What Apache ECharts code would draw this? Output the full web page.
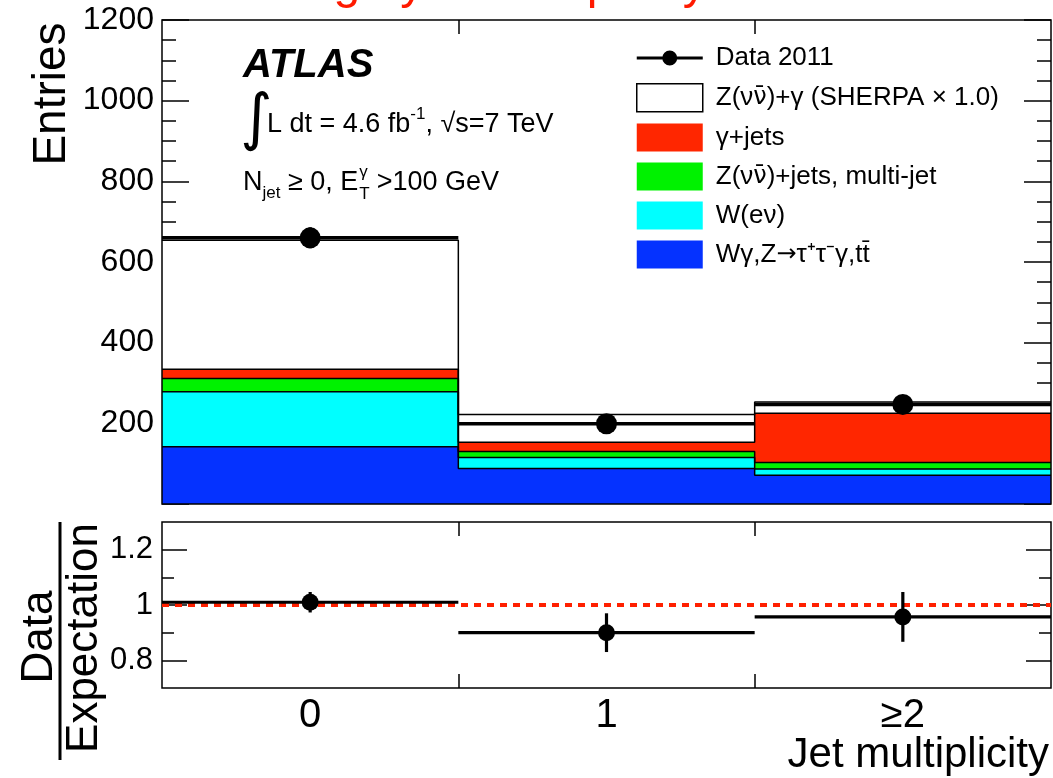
<!DOCTYPE html>
<html>
<head>
<meta charset="utf-8">
<script src="https://cdn.jsdelivr.net/npm/echarts@6/dist/echarts.min.js"></script>
<style>
  html, body { margin: 0; padding: 0; background: #fff; }
  #chart { width: 1053px; height: 778px; }
</style>
</head>
<body>
<div id="chart"></div>
<script>
// Jet multiplicity bins and their edges
const jetBins = ['0', '1', '≥2'];
const binEdges = [-0.5, 0.5, 1.5, 2.5];
const binBoundaries = [0.5, 1.5];

// Observed events with uncertainties
const dataCounts = [660, 199, 247];
const dataErrors = [26, 14, 16];

// Expected contributions per bin, listed from the bottom of the stack up
const wgZttTt = [142, 88, 71];
const wEnu = [136, 27, 16];
const zJetsMultijet = [33, 15, 16];
const gammaJets = [23, 23, 122];
const zgSherpa = [320, 69, 28];

// Data / expectation
const ratioValues = [1.01, 0.90, 0.957];
const ratioErrors = [0.037, 0.07, 0.09];
const ratioReference = 1;

// Ratio axis ticks
const ratioMajorTicks = [0.8, 1, 1.2];
const ratioMinorTicks = [0.9, 1.1];

const FONT = '"Liberation Sans", Arial, Helvetica, sans-serif';
const SYMBOL_FONT = '"DejaVu Sans", sans-serif';
const names = {
  data: 'Data 2011',
  zg: 'Z(νν̄)+γ (SHERPA × 1.0)',
  gj: 'γ+jets',
  zj: 'Z(νν̄)+jets, multi-jet',
  we: 'W(eν)',
  wg: 'Wγ,Z→τ⁺τ⁻γ,tt̄'
};
const colors = {
  zg: '#ffffff', gj: '#ff2600', zj: '#00f200', we: '#00ffff', wg: '#0532ff'
};

// Running totals of the stack, bottom to top
const stackOrder = [
  ['wg', wgZttTt], ['we', wEnu], ['zj', zJetsMultijet], ['gj', gammaJets], ['zg', zgSherpa]
];
const stackTops = {};
{
  let running = jetBins.map(() => 0);
  stackOrder.forEach(([key, vals]) => {
    running = running.map((r, i) => r + vals[i]);
    stackTops[key] = running.slice();
  });
}

// Histogram outline as a stepped area filled down to zero; the series is
// drawn from the top of the stack downward so each lower layer covers the
// fill of the layers above it.
function stepSeries(key) {
  const tops = stackTops[key];
  return {
    name: names[key], type: 'line', xAxisIndex: 0, yAxisIndex: 0,
    step: 'end', symbol: 'none', showSymbol: false,
    data: binEdges.map((e, i) => [e, tops[Math.min(i, tops.length - 1)]]),
    lineStyle: { color: '#000', width: 1.5 },
    areaStyle: { color: colors[key], opacity: 1, origin: 'start' },
    itemStyle: { color: colors[key] },
    emphasis: { disabled: true },
    z: 2
  };
}

// Data point: full-bin horizontal bar, vertical error bar and a filled dot
function pointRenderer(radius, width) {
  return function (params, api) {
    const x = api.value(0), y = api.value(1), e = api.value(2);
    const l = api.coord([x - 0.5, y]);
    const r = api.coord([x + 0.5, y]);
    const c = api.coord([x, y]);
    const t = api.coord([x, y + e]);
    const b = api.coord([x, y - e]);
    const st = { stroke: '#000', lineWidth: width };
    return {
      type: 'group',
      children: [
        { type: 'line', shape: { x1: l[0], y1: l[1], x2: r[0], y2: r[1] }, style: st },
        { type: 'line', shape: { x1: c[0], y1: t[1], x2: c[0], y2: b[1] }, style: st },
        { type: 'circle', shape: { cx: c[0], cy: c[1], r: radius }, style: { fill: '#000' } }
      ]
    };
  };
}

function measure(text, size) {
  const ctx = document.createElement('canvas').getContext('2d');
  ctx.font = size + 'px ' + FONT;
  return ctx.measureText(text).width;
}

const tickStyle = { color: '#000', width: 1.5 };
const plotLeft = 162, plotRight = 2;
const hiddenLine = { show: false, onZero: false };

function edgeXAxis(gridIndex, position, labels) {
  return {
    type: 'value', gridIndex, position, min: binEdges[0], max: binEdges[binEdges.length - 1],
    axisLine: hiddenLine, splitLine: { show: false },
    axisTick: { show: true, inside: true, length: 14, lineStyle: tickStyle, customValues: binBoundaries },
    axisLabel: labels ? {
      show: true, customValues: [0, 1, 2], formatter: v => jetBins[Math.round(v)],
      fontSize: 40, color: '#000', margin: 8, fontFamily: FONT
    } : { show: false }
  };
}

function valueYAxis(gridIndex, position, min, max, extra) {
  return Object.assign({
    type: 'value', gridIndex, position, min, max,
    axisLine: hiddenLine, splitLine: { show: false }, axisLabel: { show: false }
  }, extra);
}

const chart = echarts.init(document.getElementById('chart'), null, { renderer: 'canvas' });

// Annotation line "N_jet >= 0, E_T^gamma > 100 GeV"
const annSize = 27, annSub = 17;
const nx0 = 243, ny = 183;
const part1W = measure('N', annSize) + measure('jet', annSub) + measure(' ≥ 0, E', annSize);
const scriptW = Math.max(measure('γ', annSub), measure('T', annSub));
const richBase = {
  n: { fontSize: annSize, fontFamily: FONT, color: '#000', lineHeight: 38, verticalAlign: 'middle' },
  sup: { fontSize: annSub, fontFamily: FONT, color: '#000', lineHeight: 17, verticalAlign: 'top' },
  sub: { fontSize: annSub, fontFamily: FONT, color: '#000', lineHeight: 17, verticalAlign: 'bottom' }
};

// Legend labels: Greek bars and arrows set in a font with good combining marks
function legendLabel(name) {
  return name
    .replace(/ν̄/g, '{s|ν̄}')
    .replace(/→/g, '{s|→}');
}

const option = {
  backgroundColor: '#fff',
  animation: false,
  textStyle: { fontFamily: FONT },
  grid: [
    { left: plotLeft, right: plotRight, top: 20, height: 484, show: true, borderColor: '#000', borderWidth: 1.5, backgroundColor: 'transparent', z: 10 },
    { left: plotLeft, right: plotRight, top: 522, height: 166, show: true, borderColor: '#000', borderWidth: 1.5, backgroundColor: 'transparent' },
    { left: plotLeft, right: plotRight, top: 522, height: 166, show: false }
  ],
  xAxis: [
    edgeXAxis(0, 'bottom', false),
    edgeXAxis(0, 'top', false),
    edgeXAxis(1, 'bottom', true),
    edgeXAxis(1, 'top', false),
    {
      type: 'value', gridIndex: 2, min: binEdges[0], max: binEdges[binEdges.length - 1],
      axisLine: hiddenLine, axisTick: { show: false }, axisLabel: { show: false }, splitLine: { show: false }
    }
  ],
  yAxis: [
    valueYAxis(0, 'left', 0, 1200, {
      interval: 200,
      axisTick: { inside: true, length: 27, lineStyle: tickStyle },
      minorTick: { show: true, splitNumber: 4, length: 14, lineStyle: tickStyle },
      axisLabel: { fontSize: 32, color: '#000', margin: 8, formatter: v => (v === 0 ? '' : String(v)) }
    }),
    valueYAxis(0, 'right', 0, 1200, {
      interval: 200,
      axisTick: { inside: true, length: 27, lineStyle: tickStyle },
      minorTick: { show: true, splitNumber: 4, length: 14, lineStyle: tickStyle }
    }),
    valueYAxis(1, 'left', 0.7, 1.3, {
      axisTick: { inside: true, length: 25, lineStyle: tickStyle, customValues: ratioMajorTicks },
      axisLabel: { fontSize: 31, color: '#000', margin: 9, customValues: ratioMajorTicks, formatter: v => String(v) }
    }),
    valueYAxis(1, 'right', 0.7, 1.3, {
      axisTick: { inside: true, length: 25, lineStyle: tickStyle, customValues: ratioMajorTicks }
    }),
    valueYAxis(2, 'left', 0.7, 1.3, {
      axisTick: { show: true, inside: true, length: 12, lineStyle: tickStyle, customValues: ratioMinorTicks }
    }),
    valueYAxis(2, 'right', 0.7, 1.3, {
      axisTick: { show: true, inside: true, length: 12, lineStyle: tickStyle, customValues: ratioMinorTicks }
    })
  ],
  legend: {
    orient: 'vertical', left: 636, top: 44, padding: 0,
    itemWidth: 66, itemHeight: 28, itemGap: 11,
    selectedMode: false,
    formatter: legendLabel,
    textStyle: {
      fontSize: 26, color: '#000', fontFamily: FONT, padding: [0, 0, 0, 8],
      rich: { s: { fontSize: 24, fontFamily: SYMBOL_FONT, color: '#000' } }
    },
    data: [
      {
        name: names.data,
        icon: 'path://M0,0L0.01,0L0,0.01Z M66,28L65.99,28L66,27.99Z M0,12.5L66,12.5L66,15.5L0,15.5Z M25.5,14A7.5,7.5 0 1,1 40.5,14A7.5,7.5 0 1,1 25.5,14Z',
        itemStyle: { color: '#000', borderWidth: 0 }
      },
      { name: names.zg, icon: 'rect', itemStyle: { color: colors.zg, borderColor: '#000', borderWidth: 1.5 } },
      { name: names.gj, icon: 'rect', itemStyle: { color: colors.gj, borderWidth: 0 } },
      { name: names.zj, icon: 'rect', itemStyle: { color: colors.zj, borderWidth: 0 } },
      { name: names.we, icon: 'rect', itemStyle: { color: colors.we, borderWidth: 0 } },
      { name: names.wg, icon: 'rect', itemStyle: { color: colors.wg, borderWidth: 0 } }
    ]
  },
  series: [
    stepSeries('zg'),
    stepSeries('gj'),
    stepSeries('zj'),
    stepSeries('we'),
    stepSeries('wg'),
    {
      name: names.data, type: 'custom', xAxisIndex: 0, yAxisIndex: 0,
      data: dataCounts.map((v, i) => [i, v, dataErrors[i]]),
      encode: { x: 0, y: 1 }, renderItem: pointRenderer(10.5, 3.5),
      itemStyle: { color: '#000' }, z: 5
    },
    {
      name: 'ratio reference', type: 'line', xAxisIndex: 4, yAxisIndex: 4,
      data: [[binEdges[0], ratioReference], [binEdges[binEdges.length - 1], ratioReference]],
      symbol: 'none', lineStyle: { color: '#ff2000', width: 4, type: [7, 6] }, z: 3
    },
    {
      name: 'ratio', type: 'custom', xAxisIndex: 2, yAxisIndex: 2,
      data: ratioValues.map((v, i) => [i, v, ratioErrors[i]]),
      encode: { x: 0, y: 1 }, renderItem: pointRenderer(8.5, 3.2),
      itemStyle: { color: '#000' }, z: 5
    }
  ],
  graphic: [
    {
      type: 'text', x: 200, y: -15.5,
      style: { text: 'Binning by N multiplicity', fill: '#ff1a00', font: '48px ' + FONT, verticalAlign: 'middle' }
    },
    {
      type: 'text', x: 243, y: 66,
      style: { text: 'ATLAS', fill: '#000', font: 'italic bold 40px ' + FONT, verticalAlign: 'middle' }
    },
    {
      type: 'text', x: 240, y: 122,
      style: { text: '∫', fill: '#000', font: '62px ' + SYMBOL_FONT, verticalAlign: 'middle' }
    },
    {
      type: 'text', x: 267, y: 125,
      style: {
        text: '{n|L dt = 4.6 fb}{sup|-1}{n|, √s=7 TeV}',
        verticalAlign: 'middle', rich: richBase
      }
    },
    {
      type: 'text', x: nx0, y: ny,
      style: { text: '{n|N}{sub|jet}{n| ≥ 0, E}', verticalAlign: 'middle', rich: richBase }
    },
    {
      type: 'text', x: nx0 + part1W + 1, y: ny - 11,
      style: { text: 'γ', fill: '#000', font: annSub + 'px ' + FONT, verticalAlign: 'middle' }
    },
    {
      type: 'text', x: nx0 + part1W + 1, y: ny + 11,
      style: { text: 'T', fill: '#000', font: annSub + 'px ' + FONT, verticalAlign: 'middle' }
    },
    {
      type: 'text', x: nx0 + part1W + scriptW + 8, y: ny,
      style: { text: '>100 GeV', fill: '#000', font: annSize + 'px ' + FONT, verticalAlign: 'middle' }
    },
    {
      type: 'text', x: 52.7, y: 94, rotation: Math.PI / 2,
      style: { text: 'Entries', fill: '#000', font: '46px ' + FONT, align: 'center', verticalAlign: 'middle' }
    },
    {
      type: 'text', x: 39.4, y: 637, rotation: Math.PI / 2,
      style: { text: 'Data', fill: '#000', font: '44px ' + FONT, align: 'center', verticalAlign: 'middle' }
    },
    {
      type: 'line', shape: { x1: 60, y1: 522, x2: 60, y2: 760 },
      style: { stroke: '#000', lineWidth: 3 }
    },
    {
      type: 'text', x: 84.4, y: 638, rotation: Math.PI / 2,
      style: { text: 'Expectation', fill: '#000', font: '44px ' + FONT, align: 'center', verticalAlign: 'middle' }
    },
    {
      type: 'text', x: 1049, y: 755,
      style: { text: 'Jet multiplicity', fill: '#000', font: '42px ' + FONT, align: 'right', verticalAlign: 'middle' }
    }
  ]
};

chart.setOption(option);
</script>
</body>
</html>
